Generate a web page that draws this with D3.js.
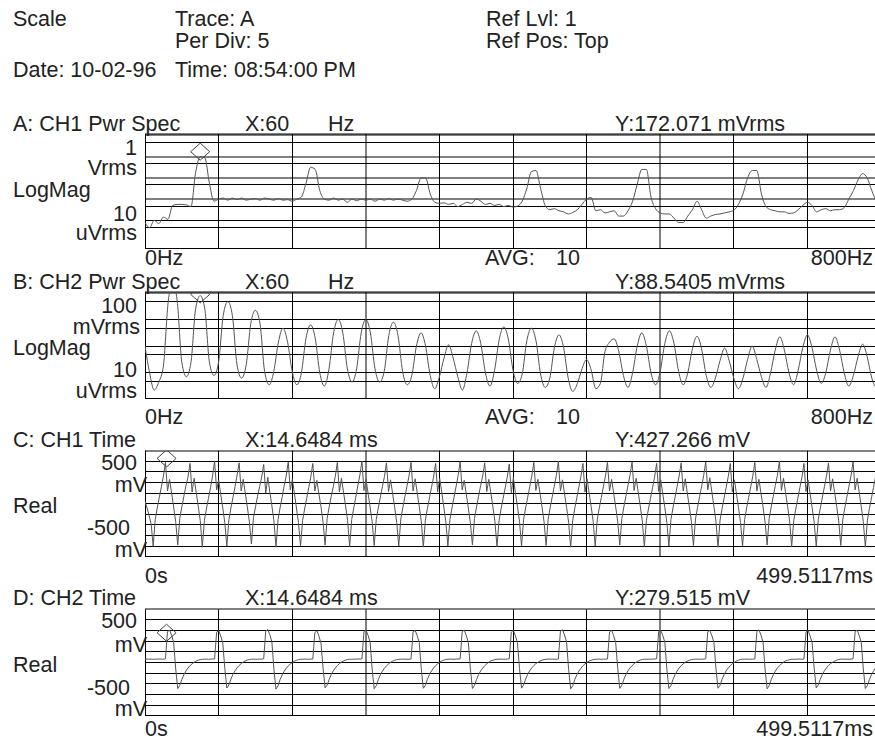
<!DOCTYPE html>
<html><head><meta charset="utf-8">
<script src="https://cdn.jsdelivr.net/npm/d3@7"></script>
<style>
body{margin:0;background:#fff;}
text{font-family:"Liberation Sans",Arial,Helvetica,sans-serif;font-size:21.5px;fill:#222;}
</style></head>
<body><svg id="chart" width="875" height="742"></svg>
<script>
// ---------- DATA ----------
const freqStepHz = 5;            // spectrum bin width
const freqSpanHz = 800;
const timeStepMs = 1.388889;     // time-record sample spacing
const timeSpanMs = 499.5117;

// Trace A: CH1 power spectrum, dBV (0 dBV = 1 Vrms), bins 0..800 Hz
const specA = [
 -82,-87,-80,-83,-77,-79,-66,-65,-65,-65.5,
 -67,-35,-20,-21,-45,-62,-60,-59,-61,-59,
 -60.5,-59,-61,-60,-59.5,-61,-59,-60,-61,-59.5,
 -61,-60.5,-62,-60,-58,-45,-30,-32,-52,-60,
 -61,-59,-61,-60,-63,-60,-61.5,-60,-61,-60,
 -62,-60,-61,-59.5,-61,-60,-61,-62,-60,-52,
 -40,-40,-55,-63,-64,-63.5,-65,-64,-67,-65,
 -63,-64,-60,-62,-65,-64,-66,-65,-67,-66,
 -67.5,-66.5,-62,-50,-34,-33,-50,-66,-70,-69,
 -71,-72,-74,-72.5,-70,-65,-60,-58.5,-71,-70,
 -73,-72,-71,-76,-76,-71,-62,-46,-32,-32,
 -58,-69,-73,-74,-74,-78,-82,-82,-76,-70,
 -62,-70,-78,-76,-74.5,-74,-73,-72,-70.5,-65,
 -55,-40,-33,-33,-55,-67,-70,-71,-72,-72,
 -73.5,-73,-70,-66,-63,-66,-72,-70,-69,-71,
 -70,-70,-68,-60,-52,-42,-36,-40,-52,-61,
 -62
];

// Trace B: CH2 power spectrum, dBV, bins 0..800 Hz
const specB = [
 -60,-80,-93,-87,-75,-28,-12,-26,-72,-83,
 -72,-32,-22,-32,-72,-82,-72,-37,-26.5,-37,
 -74,-84,-74,-43,-33,-43,-79,-89,-79,-57,
 -46.5,-57,-79,-89,-80,-54,-44,-54,-80,-90,
 -77,-50,-40,-50,-77,-87,-77,-50,-40,-50,
 -77,-87,-79,-52,-42,-52,-79,-89,-82,-60,
 -50,-60,-82,-92,-83,-69,-59,-69,-83,-93,
 -80,-58,-48.5,-58,-80,-90,-78,-55,-45.5,-55,
 -78,-88,-81,-56,-46.5,-56,-81,-91,-84,-61,
 -51.5,-61,-84,-94,-88,-77,-70,-78,-92,-88,
 -64,-57,-54.5,-64,-82,-91,-80,-60,-50,-60,
 -80,-89,-79,-58,-48.5,-58,-79,-89,-80,-62,
 -52.5,-62,-82,-91,-84,-71,-61.5,-71,-84,-92,
 -84,-70,-60,-70,-83,-91,-80,-63,-53,-63,
 -80,-89,-78,-61,-51.5,-61,-78,-88,-80,-63,
 -53,-63,-80,-90,-82,-68,-58.5,-68,-84,-91,
 -88
];

// Trace C: CH1 time record, mV (one row per 60 Hz cycle)
const timeC = [
 20,-40,-110,-190,-400,-150,-40,60,160,260,390,120,
 230,100,-30,-170,-390,-140,-30,70,170,250,380,110,
 240,110,-20,-160,-410,-160,-50,50,150,260,400,130,
 220,90,-40,-180,-400,-150,-40,60,160,270,385,120,
 230,100,-30,-170,-380,-130,-30,70,160,250,370,100,
 250,110,-20,-160,-410,-150,-40,60,170,260,395,130,
 230,100,-40,-180,-400,-160,-50,50,150,250,380,120,
 220,90,-30,-170,-390,-140,-30,70,160,260,390,110,
 240,110,-20,-160,-405,-150,-40,60,170,270,400,125,
 230,100,-30,-170,-395,-150,-40,60,160,255,385,115,
 225,95,-35,-175,-400,-145,-35,65,165,260,390,120,
 235,105,-25,-165,-410,-155,-45,55,155,250,380,110,
 240,110,-30,-170,-400,-150,-40,60,160,265,395,130,
 220,90,-40,-180,-390,-140,-30,70,170,260,385,115,
 230,100,-30,-170,-405,-160,-50,50,150,250,375,105,
 245,105,-25,-165,-400,-150,-40,60,160,260,390,125,
 230,100,-30,-170,-395,-145,-35,65,165,265,400,120,
 225,95,-35,-175,-410,-155,-45,55,155,255,380,110,
 235,105,-25,-165,-400,-150,-40,60,160,260,390,120,
 230,100,-30,-170,-390,-140,-30,70,170,270,395,125,
 240,110,-20,-160,-405,-160,-50,50,150,250,380,115,
 225,95,-35,-175,-400,-150,-40,60,160,260,385,120,
 235,100,-30,-170,-395,-145,-35,65,165,265,395,130,
 245,110,-25,-165,-410,-155,-45,55,155,255,380,110,
 225,95,-35,-175,-400,-150,-40,60,160,260,390,120,
 230,100,-30,-170,-390,-140,-30,70,170,265,400,125,
 240,105,-25,-165,-405,-160,-50,50,150,250,380,115,
 225,95,-35,-175,-400,-150,-40,60,160,260,385,120,
 235,105,-25,-165,-395,-145,-35,65,165,265,395,130,
 240,110,-30,-170,-410,-155,-45,55,155,255,385,115
];

// Trace D: CH2 time record, mV (one row per 30 Hz cycle)
const timeD = [
 32,33,31,32,30,32,31,33,32,31,34,290,305,255,190,-60,-245,-215,-160,-115,-80,-52,-30,-12,
 2,14,22,27,30,31,32,30,31,33,34,285,300,250,185,-55,-240,-210,-155,-110,-78,-50,-28,-10,
 4,15,23,28,31,32,30,31,32,31,35,295,310,260,195,-65,-250,-220,-160,-118,-82,-55,-32,-14,
 0,12,21,27,30,31,32,31,30,32,33,280,298,248,180,-50,-238,-212,-158,-112,-79,-51,-29,-11,
 3,14,22,28,31,30,32,31,33,32,34,292,306,256,192,-62,-246,-218,-162,-116,-81,-53,-31,-13,
 1,13,21,27,30,31,31,32,30,31,33,288,302,252,188,-58,-242,-214,-157,-113,-79,-52,-30,-12,
 2,14,23,28,30,32,31,30,32,33,34,290,304,254,190,-60,-244,-216,-160,-114,-80,-53,-31,-12,
 3,15,22,27,31,31,32,31,30,32,35,286,301,251,186,-56,-241,-211,-156,-111,-78,-50,-29,-10,
 2,13,22,28,30,32,31,32,31,30,34,294,308,258,194,-64,-248,-219,-161,-117,-81,-54,-31,-13,
 1,14,21,27,30,31,32,30,32,31,33,287,303,253,187,-57,-243,-213,-158,-113,-79,-51,-30,-11,
 3,15,23,28,31,30,31,32,31,33,34,291,305,255,191,-61,-245,-216,-160,-115,-80,-52,-30,-12,
 2,13,22,27,30,32,31,31,30,32,35,289,302,252,189,-59,-242,-214,-157,-112,-79,-51,-29,-11,
 1,14,22,28,31,31,32,30,31,31,34,293,307,257,193,-63,-247,-217,-161,-116,-81,-53,-31,-13,
 3,15,21,27,30,31,30,32,32,30,33,286,300,250,186,-56,-240,-211,-156,-111,-78,-50,-28,-10,
 2,13,22,28,31,32,31,31,30,32,34,290,304,254,190,-60,-244,-215,-159,-114,-80,-52,-30,-12
];

// Markers (X, Y readouts)
const markerFreqHz = 60;
const markerA = 20*Math.log10(0.172071);   // dBV
const markerB = 20*Math.log10(0.0885405);  // dBV
const markerTimeMs = 14.6484;
const markerC = 427.266;  // mV
const markerD = 279.515;  // mV

// Grid lines (in each trace's units); "soft" ones render half-tone as in the original
const gridSpecA = [-80,-6.5,-26.5,-46.5,-66.5,-86.5];
const gridSpecAsoft = [0,-20,-40,-60];
const gridSpecB = [-40,-60,-80,-26.5,-46.5,-66.5,-86.5];
const gridSpecBsoft = [-20];
const gridTime = [-400,-300,-200,-100,0,100,200,300,400];
const xDivisions = 10;
const xDivSoft = [3,7];

// ---------- DRAW ----------
const svg = d3.select("#chart");
const X0 = 145, X1 = 881;
const xFreq = d3.scaleLinear().domain([0, freqSpanHz]).range([X0, X1]);
const xTime = d3.scaleLinear().domain([0, timeSpanMs]).range([X0, X1]);
const crisp = v => Math.floor(v) + 0.5;
const soft = v => Math.round(v);

const panels = [
  {key:"A", top:134, bottom:248, x:xFreq, domain:[-106.1,1.4], grid:gridSpecA, gridSoft:gridSpecAsoft,
   vals:specA, step:freqStepHz, mx:markerFreqHz, my:markerA, curve:d3.curveMonotoneX},
  {key:"B", top:292.3, bottom:398.3, x:xFreq, domain:[-99.2,-19.5], grid:gridSpecB, gridSoft:gridSpecBsoft,
   vals:specB, step:freqStepHz, mx:markerFreqHz, my:markerB, curve:d3.curveMonotoneX},
  {key:"C", top:450.7, bottom:556.7, x:xTime, domain:[-500,500], grid:gridTime, gridSoft:[],
   vals:timeC, step:timeStepMs, mx:markerTimeMs, my:markerC, curve:d3.curveLinear},
  {key:"D", top:609.3, bottom:715.7, x:xTime, domain:[-500,500], grid:gridTime, gridSoft:[],
   vals:timeD, step:timeStepMs, mx:markerTimeMs, my:markerD, curve:d3.curveLinear}
];

panels.forEach(p => {
  const y = d3.scaleLinear().domain(p.domain).range([p.bottom, p.top]);
  const g = svg.append("g");
  const clipId = "clip"+p.key;
  svg.append("clipPath").attr("id", clipId).append("rect")
    .attr("x", X0).attr("y", p.top).attr("width", X1-X0).attr("height", p.bottom-p.top);
  const T = p.top, B = crisp(p.bottom), L = crisp(X0);

  // horizontal grid
  g.selectAll("line.h").data(p.grid).join("line").attr("class","h")
    .attr("x1", X0).attr("x2", X1)
    .attr("y1", d => crisp(y(d))).attr("y2", d => crisp(y(d)))
    .attr("stroke", "#000").attr("stroke-width", 1);
  g.selectAll("line.hs").data(p.gridSoft).join("line").attr("class","hs")
    .attr("x1", X0).attr("x2", X1)
    .attr("y1", d => soft(y(d))).attr("y2", d => soft(y(d)))
    .attr("stroke", "#000").attr("stroke-width", 1);
  // vertical grid
  const xd = p.x.domain()[1];
  g.selectAll("line.v").data(d3.range(1, xDivisions)).join("line").attr("class","v")
    .attr("x1", d => xDivSoft.includes(d) ? soft(p.x(d*xd/xDivisions)) : crisp(p.x(d*xd/xDivisions)))
    .attr("x2", d => xDivSoft.includes(d) ? soft(p.x(d*xd/xDivisions)) : crisp(p.x(d*xd/xDivisions)))
    .attr("y1", T).attr("y2", B)
    .attr("stroke", "#000").attr("stroke-width", 1);
  // frame: soft top, crisp others
  g.append("line").attr("x1", X0).attr("x2", X1).attr("y1", soft(T)).attr("y2", soft(T))
    .attr("stroke", "#000").attr("stroke-width", 1);
  g.append("line").attr("x1", X0).attr("x2", X1).attr("y1", B).attr("y2", B)
    .attr("stroke", "#000").attr("stroke-width", 1);
  g.append("line").attr("x1", L).attr("x2", L).attr("y1", T).attr("y2", B)
    .attr("stroke", "#000").attr("stroke-width", 1);

  // trace
  const line = d3.line().x((d,i) => p.x(i*p.step)).y(d => y(d)).curve(p.curve);
  g.append("path").datum(p.vals)
    .attr("clip-path", `url(#${clipId})`)
    .attr("d", line).attr("fill", "none")
    .attr("stroke", "#555").attr("stroke-width", 1);

  // marker diamond
  const mx = p.x(p.mx), my = y(p.my);
  g.append("path").attr("clip-path", `url(#${clipId})`)
    .attr("d", `M${mx},${my-8.5}L${mx+9.5},${my}L${mx},${my+8.5}L${mx-9.5},${my}Z`)
    .attr("fill", "none").attr("stroke", "#444").attr("stroke-width", 1);
});

// ---------- TEXT ----------
const texts = [
  ["Scale",13,26,"start"],["Trace: A",175,26,"start"],["Per Div: 5",175,48,"start"],
  ["Ref Lvl: 1",486,26,"start"],["Ref Pos: Top",486,48,"start"],
  ["Date: 10-02-96",13,77,"start"],["Time: 08:54:00 PM",175,77,"start"],
  // A
  ["A: CH1 Pwr Spec",13,131,"start"],["X:60",245,131,"start"],["Hz",328,131,"start"],
  ["Y:172.071 mVrms",615,131,"start"],
  ["1",137,155,"end"],["Vrms",137,175,"end"],["LogMag",13,197,"start"],
  ["10",137,221,"end"],["uVrms",137,240,"end"],
  ["0Hz",145,265,"start"],["AVG:",485,265,"start"],["10",556,265,"start"],["800Hz",873,265,"end"],
  // B
  ["B: CH2 Pwr Spec",13,289,"start"],["X:60",245,289,"start"],["Hz",328,289,"start"],
  ["Y:88.5405 mVrms",615,289,"start"],
  ["100",137,313,"end"],["mVrms",140,334,"end"],["LogMag",13,355,"start"],
  ["10",137,377,"end"],["uVrms",137,398,"end"],
  ["0Hz",145,424,"start"],["AVG:",485,424,"start"],["10",556,424,"start"],["800Hz",873,424,"end"],
  // C
  ["C: CH1 Time",13,447,"start"],["X:14.6484 ms",245,447,"start"],["Y:427.266 mV",615,447,"start"],
  ["500",137,470,"end"],["mV",147,492,"end"],["Real",13,513,"start"],
  ["-500",130,535,"end"],["mV",147,557,"end"],
  ["0s",145,583,"start"],["499.5117ms",873,583,"end"],
  // D
  ["D: CH2 Time",13,605,"start"],["X:14.6484 ms",245,605,"start"],["Y:279.515 mV",615,605,"start"],
  ["500",137,628,"end"],["mV",147,652,"end"],["Real",13,672,"start"],
  ["-500",130,695,"end"],["mV",147,716,"end"],
  ["0s",145,736,"start"],["499.5117ms",873,736,"end"]
];
svg.append("g").selectAll("text").data(texts).join("text")
  .attr("x", d => d[1]).attr("y", d => d[2]).attr("text-anchor", d => d[3])
  .text(d => d[0]);
</script>
</body></html>
